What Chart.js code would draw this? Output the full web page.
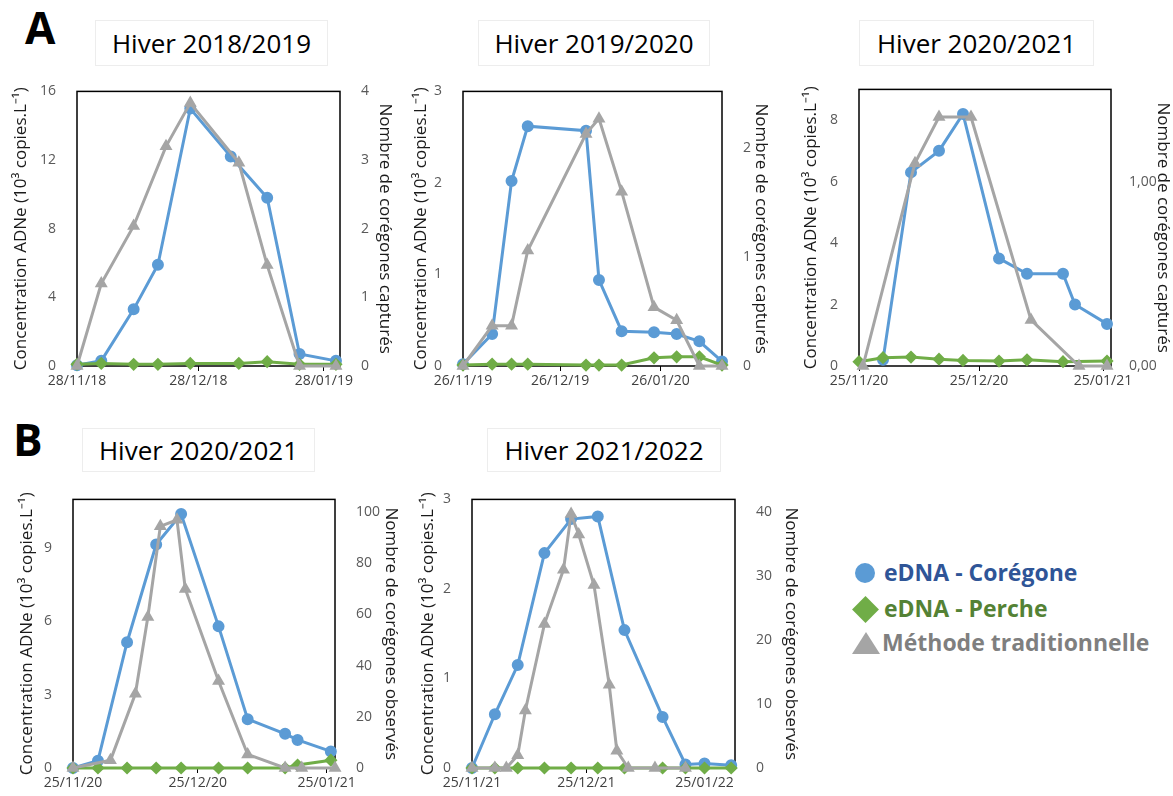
<!DOCTYPE html>
<html>
<head>
<meta charset="utf-8">
<script src="https://cdn.jsdelivr.net/npm/chart.js@4.4.0/dist/chart.umd.min.js"></script>
<style>
  body { margin: 0; width: 1173px; height: 796px; background: #fff; position: relative; overflow: hidden; font-family: 'Open Sans', sans-serif; }
  canvas { position: absolute; }
  .ttl { position: absolute; border: 1px solid #ededed; box-sizing: border-box; display: flex; align-items: center; justify-content: center; font-size: 26px; color: #000; }
  .tag { position: absolute; font-weight: bold; font-size: 44px; color: #000; line-height: 1; }
  .leg { position: absolute; font-weight: bold; font-size: 23px; line-height: 1; white-space: nowrap; }
  .mk { position: absolute; }
</style>
</head>
<body>
<div class="tag" style="left:25px;top:5px">A</div>
<div class="tag" style="left:13px;top:417px">B</div>

<div class="ttl" style="left:95px;top:20px;width:233px;height:46px">Hiver 2018/2019</div>
<div class="ttl" style="left:478px;top:20px;width:232px;height:46px">Hiver 2019/2020</div>
<div class="ttl" style="left:859px;top:20px;width:235px;height:46px">Hiver 2020/2021</div>
<div class="ttl" style="left:82px;top:428px;width:233px;height:44px">Hiver 2020/2021</div>
<div class="ttl" style="left:487px;top:428px;width:234px;height:44px">Hiver 2021/2022</div>

<canvas id="a1"></canvas>
<canvas id="a2"></canvas>
<canvas id="a3"></canvas>
<canvas id="b1"></canvas>
<canvas id="b2"></canvas>

<div class="mk" style="left:855px;top:563px;width:20px;height:20px;border-radius:50%;background:#5b9bd5"></div>
<div class="leg" style="left:884px;top:561px;color:#2f5597">eDNA - Corégone</div>
<div class="mk" style="left:856px;top:600px;width:19px;height:19px;background:#70ad47;transform:rotate(45deg)"></div>
<div class="leg" style="left:884px;top:597px;color:#548235">eDNA - Perche</div>
<div class="mk" style="left:852px;top:632px;width:0;height:0;border-left:14px solid transparent;border-right:14px solid transparent;border-bottom:22px solid #a5a5a5"></div>
<div class="leg" style="left:882px;top:631px;color:#7f7f7f">Méthode traditionnelle</div>

<script>
// ---------- A : Hiver 2018/2019
const a1Range = ['28/11/18', '01/02/19'];
const a1XTicks = ['28/11/18', '28/12/18', '28/01/19'];
const a1LeftTicks = [0, 4, 8, 12, 16];
const a1RightTicks = [0, 1, 2, 3, 4];
const a1Max = [16, 4];
const a1CorDates = ['28/11/18', '04/12/18', '12/12/18', '18/12/18', '26/12/18', '05/01/19', '14/01/19', '22/01/19', '31/01/19'];
const a1Cor = [0.05, 0.3, 3.3, 5.9, 15.0, 12.2, 9.8, 0.7, 0.3];
const a1PerDates = ['28/11/18', '04/12/18', '12/12/18', '18/12/18', '26/12/18', '07/01/19', '14/01/19', '22/01/19', '31/01/19'];
const a1Per = [0.1, 0.15, 0.1, 0.1, 0.15, 0.15, 0.25, 0.1, 0.1];
const a1TradDates = ['28/11/18', '04/12/18', '12/12/18', '20/12/18', '26/12/18', '07/01/19', '14/01/19', '22/01/19', '31/01/19'];
const a1Trad = [0, 1.2, 2.04, 3.2, 3.83, 2.96, 1.47, 0, 0];

// ---------- A : Hiver 2019/2020
const a2Range = ['26/11/19', '14/02/20'];
const a2XTicks = ['26/11/19', '26/12/19', '26/01/20'];
const a2LeftTicks = [0, 1, 2, 3];
const a2RightTicks = [0, 1, 2];
const a2Max = [3, 2.52];
const a2Dates = ['26/11/19', '05/12/19', '11/12/19', '16/12/19', '03/01/20', '07/01/20', '14/01/20', '24/01/20', '31/01/20', '07/02/20', '14/02/20'];
const a2Cor = [0.02, 0.35, 2.02, 2.62, 2.57, 0.94, 0.38, 0.37, 0.35, 0.27, 0.05];
const a2Per = [0.01, 0.02, 0.02, 0.02, 0.01, 0.01, 0.01, 0.09, 0.1, 0.1, 0.01];
const a2Trad = [0, 0.37, 0.37, 1.06, 2.13, 2.27, 1.6, 0.54, 0.42, 0, 0];

// ---------- A : Hiver 2020/2021
const a3Range = ['25/11/20', '27/01/21'];
const a3XTicks = ['25/11/20', '25/12/20', '25/01/21'];
const a3LeftTicks = [0, 2, 4, 6, 8];
const a3RightTicks = [0, 1];
const a3Max = [9, 1.5];
const a3CorDates = ['01/12/20', '08/12/20', '15/12/20', '21/12/20', '30/12/20', '06/01/21', '15/01/21', '18/01/21', '26/01/21'];
const a3Cor = [0.2, 6.3, 7.0, 8.2, 3.5, 3.0, 3.0, 2.0, 1.37];
const a3PerDates = ['25/11/20', '01/12/20', '08/12/20', '15/12/20', '21/12/20', '30/12/20', '06/01/21', '15/01/21', '26/01/21'];
const a3Per = [0.14, 0.27, 0.29, 0.22, 0.18, 0.16, 0.2, 0.14, 0.16];
const a3TradDates = ['26/11/20', '09/12/20', '15/12/20', '23/12/20', '07/01/21', '19/01/21', '26/01/21'];
const a3Trad = [0, 1.1, 1.35, 1.35, 0.25, 0, 0];

// ---------- B : Hiver 2020/2021
const b1Range = ['25/11/20', '27/01/21'];
const b1XTicks = ['25/11/20', '25/12/20', '25/01/21'];
const b1LeftTicks = [0, 3, 6, 9];
const b1RightTicks = [0, 20, 40, 60, 80, 100];
const b1Max = [11, 105];
const b1Dates = ['25/11/20', '01/12/20', '08/12/20', '15/12/20', '21/12/20', '30/12/20', '06/01/21', '15/01/21', '18/01/21', '26/01/21'];
const b1Cor = [0, 0.3, 5.15, 9.15, 10.4, 5.8, 2.0, 1.4, 1.15, 0.68];
const b1Per = [0, 0, 0, 0, 0, 0, 0, 0, 0.12, 0.32];
const b1TradDates = ['25/11/20', '04/12/20', '10/12/20', '13/12/20', '16/12/20', '20/12/20', '22/12/20', '30/12/20', '06/01/21', '15/01/21', '19/01/21', '27/01/21'];
const b1Trad = [0, 3, 29, 59, 94.5, 97, 70, 34, 5.3, 0, 0, 0];

// ---------- B : Hiver 2021/2022
const b2Range = ['25/11/21', '02/02/22'];
const b2XTicks = ['25/11/21', '25/12/21', '25/01/22'];
const b2LeftTicks = [0, 1, 2, 3];
const b2RightTicks = [0, 10, 20, 30, 40];
const b2Max = [3, 42];
const b2Dates = ['25/11/21', '01/12/21', '07/12/21', '14/12/21', '21/12/21', '28/12/21', '04/01/22', '14/01/22', '20/01/22', '25/01/22', '01/02/22'];
const b2Cor = [0, 0.6, 1.15, 2.4, 2.78, 2.81, 1.54, 0.57, 0.04, 0.05, 0.03];
const b2Per = [0, 0, 0, 0, 0, 0, 0, 0, 0, 0, 0];
const b2TradDates = ['25/11/21', '01/12/21', '04/12/21', '07/12/21', '09/12/21', '14/12/21', '19/12/21', '21/12/21', '23/12/21', '27/12/21', '31/12/21', '02/01/22', '05/01/22', '12/01/22', '20/01/22'];
const b2Trad = [0, 0, 0, 2, 9, 22.5, 31, 39.7, 36.5, 28.6, 13, 2.7, 0, 0, 0];

const leftTitle = 'Concentration ADNe (10³ copies.L⁻¹)';
const rightTitleA = 'Nombre de corégones capturés';
const rightTitleB = 'Nombre de corégones observés';

const BLUE = '#5b9bd5';
const GREEN = '#70ad47';
const GREY = '#a5a5a5';
const FONT = "'Open Sans', sans-serif";

function day(s) {
  const [d, m, y] = s.split('/').map(Number);
  return Date.UTC(2000 + y, m - 1, d) / 86400000;
}

function pts(dates, values) {
  return dates.map((d, i) => ({ x: day(d), y: values[i] }));
}

const frame = {
  id: 'frame',
  beforeDatasetsDraw(chart) {
    const { ctx, chartArea: a } = chart;
    ctx.save();
    ctx.strokeStyle = '#000';
    ctx.lineWidth = 1.5;
    ctx.strokeRect(a.left, a.top, a.right - a.left, a.bottom - a.top);
    ctx.restore();
  },
};

// geo: canvas box + plot box (page pixels)
function drawPanel(id, geo, p) {
  const el = document.getElementById(id);
  el.width = geo.right - geo.left;
  el.height = geo.bottom - geo.top;
  el.style.left = geo.left + 'px';
  el.style.top = geo.top + 'px';
  const tickFont = { family: FONT, size: 14 };
  const titleFont = { family: FONT, size: 17 };
  const rPad = geo.rightPad ?? 3;
  const rTickPad = geo.rightTickPad ?? 13;

  new Chart(el, {
    type: 'line',
    data: {
      datasets: [
        { label: 'eDNA - Corégone', data: pts(p.cor[0], p.cor[1]), yAxisID: 'y',
          borderColor: BLUE, backgroundColor: BLUE, borderWidth: 3, pointStyle: 'circle', pointRadius: 4.5, order: 3 },
        { label: 'eDNA - Perche', data: pts(p.per[0], p.per[1]), yAxisID: 'y',
          borderColor: GREEN, backgroundColor: GREEN, borderWidth: 3, pointStyle: 'rectRot', pointRadius: 4.5, order: 2 },
        { label: 'Méthode traditionnelle', data: pts(p.trad[0], p.trad[1]), yAxisID: 'y1',
          borderColor: GREY, backgroundColor: GREY, borderWidth: 3, pointStyle: 'triangle', pointRadius: 4.5, order: 1 },
      ],
    },
    options: {
      responsive: false,
      animation: false,
      devicePixelRatio: 1,
      clip: false,
      layout: { padding: { top: geo.plotTop - geo.top, left: 0, right: 0, bottom: 0 } },
      plugins: { legend: { display: false }, tooltip: { enabled: false } },
      elements: { line: { tension: 0 }, point: { borderWidth: 0 } },
      scales: {
        x: {
          type: 'linear',
          min: day(p.range[0]),
          max: day(p.range[1]),
          afterBuildTicks: (s) => { s.ticks = p.xTicks.map((t) => ({ value: day(t) })); },
          afterFit: (s) => { s.height = geo.bottom - geo.plotBottom; },
          ticks: { autoSkip: false, maxRotation: 0, padding: 2, color: '#404040', font: tickFont,
            callback: (v, i) => p.xTicks[i] },
          grid: { display: true, drawOnChartArea: false, drawTicks: true, tickLength: 5, color: '#000' },
          border: { display: false },
        },
        y: {
          position: 'left',
          min: 0,
          max: p.max[0],
          afterBuildTicks: (s) => { s.ticks = p.left.map((v) => ({ value: v })); },
          afterFit: (s) => { s.width = geo.plotLeft - geo.left; },
          ticks: { padding: 13, color: '#595959', font: tickFont },
          grid: { display: false },
          border: { display: false },
          title: { display: true, text: leftTitle, color: '#1a1a1a', font: titleFont, padding: { top: 3, bottom: 0 } },
        },
        y1: {
          position: 'right',
          min: 0,
          max: p.max[1],
          afterBuildTicks: (s) => { s.ticks = p.right.map((v) => ({ value: v })); },
          afterFit: (s) => { s.width = geo.right - geo.plotRight; },
          ticks: { padding: rTickPad, color: '#595959', font: tickFont,
            callback: (v) => (p.decimals ? v.toFixed(p.decimals).replace('.', ',') : String(v)) },
          grid: { display: false },
          border: { display: false },
          title: { display: true, text: p.rightTitle, color: '#1a1a1a', font: titleFont, padding: { top: rPad, bottom: 0 } },
        },
      },
    },
    plugins: [frame],
  });
}

drawPanel('a1', { left: 8, top: 70, right: 398, bottom: 395, plotLeft: 77, plotTop: 85, plotRight: 340, plotBottom: 366 }, {
  range: a1Range, xTicks: a1XTicks, left: a1LeftTicks, right: a1RightTicks, max: a1Max, rightTitle: rightTitleA,
  cor: [a1CorDates, a1Cor], per: [a1PerDates, a1Per], trad: [a1TradDates, a1Trad],
});
drawPanel('a2', { left: 408, top: 70, right: 774, bottom: 395, plotLeft: 463, plotTop: 85, plotRight: 722, plotBottom: 366 }, {
  range: a2Range, xTicks: a2XTicks, left: a2LeftTicks, right: a2RightTicks, max: a2Max, rightTitle: rightTitleA,
  cor: [a2Dates, a2Cor], per: [a2Dates, a2Per], trad: [a2Dates, a2Trad],
});
drawPanel('a3', { left: 798, top: 68, right: 1173, bottom: 395, plotLeft: 859, plotTop: 83, plotRight: 1111, plotBottom: 366, rightPad: 0, rightTickPad: 10 }, {
  range: a3Range, xTicks: a3XTicks, left: a3LeftTicks, right: a3RightTicks, max: a3Max, rightTitle: rightTitleA, decimals: 2,
  cor: [a3CorDates, a3Cor], per: [a3PerDates, a3Per], trad: [a3TradDates, a3Trad],
});
drawPanel('b1', { left: 14, top: 478, right: 404, bottom: 796, plotLeft: 73, plotTop: 493, plotRight: 335, plotBottom: 768 }, {
  range: b1Range, xTicks: b1XTicks, left: b1LeftTicks, right: b1RightTicks, max: b1Max, rightTitle: rightTitleB,
  cor: [b1Dates, b1Cor], per: [b1Dates, b1Per], trad: [b1TradDates, b1Trad],
});
drawPanel('b2', { left: 415, top: 478, right: 804, bottom: 796, plotLeft: 472, plotTop: 493, plotRight: 735, plotBottom: 768 }, {
  range: b2Range, xTicks: b2XTicks, left: b2LeftTicks, right: b2RightTicks, max: b2Max, rightTitle: rightTitleB,
  cor: [b2Dates, b2Cor], per: [b2Dates, b2Per], trad: [b2TradDates, b2Trad],
});
</script>
</body>
</html>
